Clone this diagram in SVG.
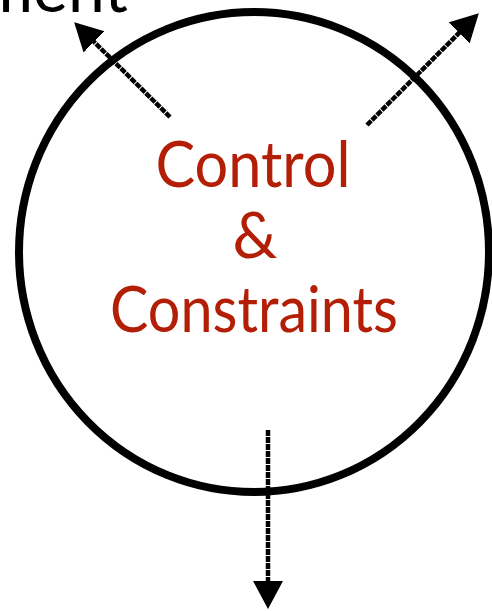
<svg xmlns="http://www.w3.org/2000/svg" width="492" height="611" viewBox="0 0 492 611">
<style>
.lbl{font-family:Lato,"Open Sans","Liberation Sans",sans-serif;font-size:63px;fill:#b31e06;text-anchor:middle}
.cut{font-family:Lato,"Open Sans","Liberation Sans",sans-serif;font-size:66px;fill:#000;text-anchor:end}
.arr{stroke:#000;stroke-width:4.5;fill:none;stroke-dasharray:6 1;marker-end:url(#head)}
</style>
<defs>
<marker id="head" markerUnits="userSpaceOnUse" markerWidth="32" markerHeight="32" refX="24" refY="15" orient="auto">
<path d="M0,0 L28,15 L0,30 Z" fill="#000"/>
</marker>
</defs>
<rect width="492" height="611" fill="#fff"/>
<g id="offscreen-label"><text class="cut" x="128" y="12">ment</text></g>
<g id="node-control">
<ellipse cx="254" cy="252" rx="235" ry="240" fill="none" stroke="#000" stroke-width="8"/>
<text class="lbl" x="253" y="187" textLength="195" lengthAdjust="spacingAndGlyphs">Control</text>
<text class="lbl" x="255" y="258">&amp;</text>
<text class="lbl" x="254" y="332" textLength="288" lengthAdjust="spacingAndGlyphs">Constraints</text>
</g>
<g id="connectors">
<line class="arr" x1="170" y1="117" x2="77" y2="25"/>
<line class="arr" x1="367" y1="125" x2="476" y2="16"/>
<line class="arr" x1="268" y1="430" x2="268" y2="605"/>
</g>
</svg>
